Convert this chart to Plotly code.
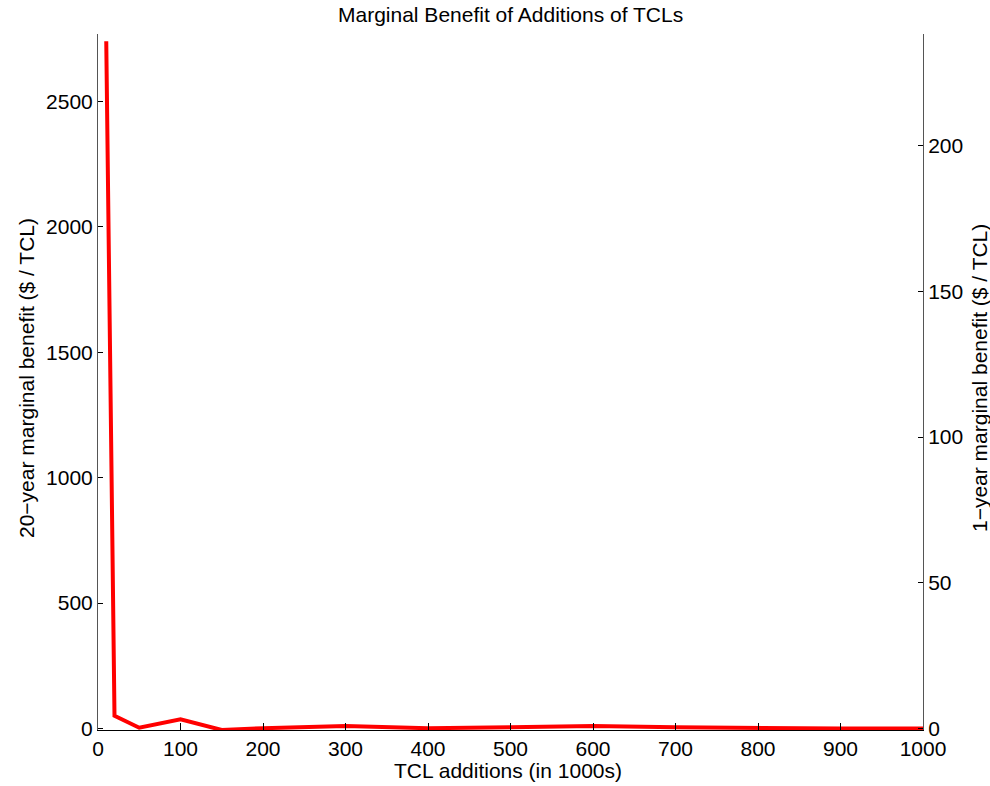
import plotly.graph_objects as go

# TCL additions (thousands) and the 20-year marginal benefit ($ per TCL)
tcl_additions = [10, 20, 50, 100, 150, 200, 300, 400, 500, 600, 700, 800, 900, 1000]
benefit_20yr = [2740, 51, 3, 37, -6, 1, 10, 1, 5, 10, 5, 1, 0, 0]

x_ticks = [0, 100, 200, 300, 400, 500, 600, 700, 800, 900, 1000]
left_ticks = [0, 500, 1000, 1500, 2000, 2500]
right_ticks = [0, 50, 100, 150, 200]

left_range = [-6, 2769]
right_range = [-0.5, 238.3]

FONT = "Liberation Sans, Arial, sans-serif"
FS = 21

fig = go.Figure()
fig.add_trace(go.Scatter(
    x=tcl_additions, y=benefit_20yr, mode="lines",
    line=dict(color="#ff0000", width=4), showlegend=False,
))
# invisible trace to activate the right-hand axis
fig.add_trace(go.Scatter(
    x=[tcl_additions[0]], y=[0], yaxis="y2", mode="lines",
    line=dict(width=0), showlegend=False, hoverinfo="skip",
))

fig.update_layout(
    width=990, height=786,
    margin=dict(l=98, r=67, t=34, b=56),
    paper_bgcolor="white", plot_bgcolor="white",
    font=dict(family=FONT, size=FS, color="black"),
    xaxis=dict(
        range=[0, 1000], tickvals=x_ticks, ticks="inside", ticklen=7,
        tickcolor="black", showline=True, linecolor="black", linewidth=1,
        showgrid=False, zeroline=False,
    ),
    yaxis=dict(
        range=left_range, tickvals=left_ticks, ticks="inside", ticklen=5,
        tickcolor="black", showline=True, linecolor="#555", linewidth=1,
        showgrid=False, zeroline=False,
    ),
    yaxis2=dict(
        range=right_range, tickvals=right_ticks, ticks="inside", ticklen=5,
        tickcolor="black", showline=True, linecolor="#555", linewidth=1,
        showgrid=False, zeroline=False, overlaying="y", side="right",
    ),
)

# titles placed as annotations (paper coordinates relative to the plot area)
labels = [
    ("Marginal Benefit of Additions of TCLs", 0.5006, 1.0287, 0),
    ("TCL additions (in 1000s)", 0.4964, -0.0589, 0),
    ("20\u2212year marginal benefit ($ / TCL)", -0.0873, 0.5057, -90),
    ("1\u2212year marginal benefit ($ / TCL)", 1.0679, 0.5057, -90),
]
for text, ax, ay, ang in labels:
    fig.add_annotation(
        text=text, x=ax, y=ay, xref="paper", yref="paper",
        xanchor="center", yanchor="middle", showarrow=False,
        textangle=ang, font=dict(family=FONT, size=FS, color="black"),
    )

fig.write_html("out.html")
